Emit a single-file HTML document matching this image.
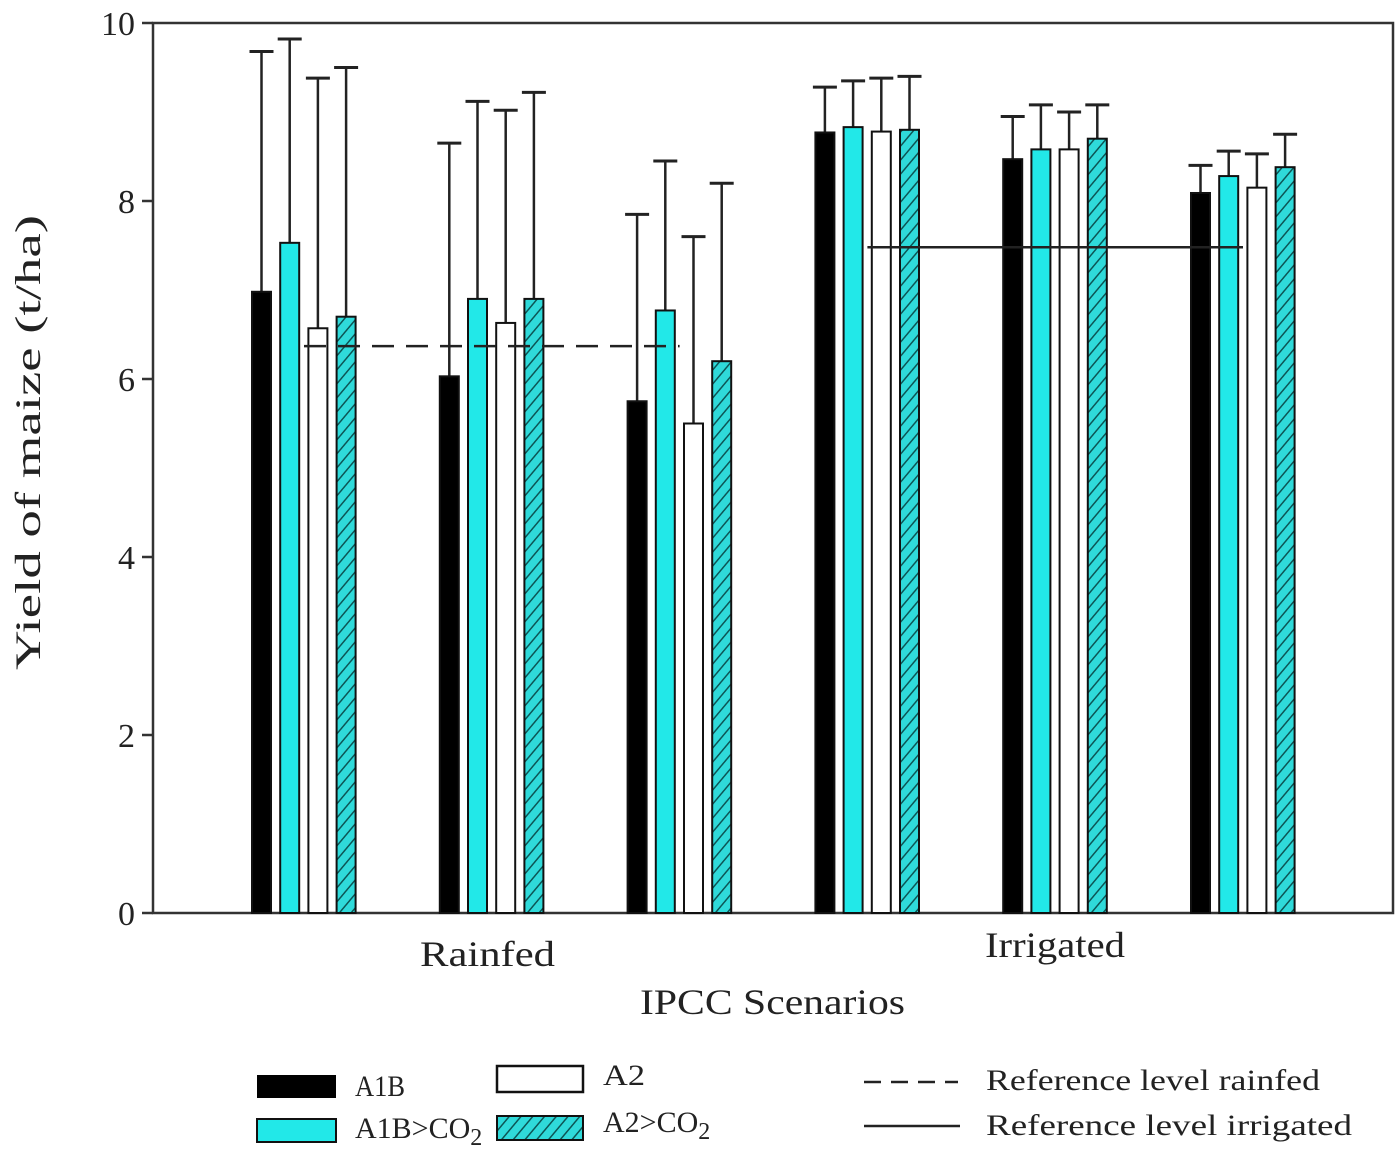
<!DOCTYPE html>
<html><head><meta charset="utf-8"><style>
html,body{margin:0;padding:0;background:#fff;}
svg{display:block;font-family:"Liberation Serif",serif;}
</style></head><body>
<svg id="chart" width="1400" height="1158" viewBox="0 0 1400 1158">
<defs>
<pattern id="hatch" width="9" height="9" patternUnits="userSpaceOnUse" patternTransform="rotate(40)">
<rect width="9" height="9" fill="#2fdada"/>
<line x1="0" y1="0" x2="0" y2="9" stroke="#0c5555" stroke-width="3"/>
</pattern>
</defs>
<g id="plot"></g>
<text x="420" y="966" font-size="36" textLength="135" lengthAdjust="spacingAndGlyphs" fill="#222">Rainfed</text>
<text x="985" y="957" font-size="36" textLength="140" lengthAdjust="spacingAndGlyphs" fill="#222">Irrigated</text>
<text x="640" y="1014" font-size="36" textLength="265" lengthAdjust="spacingAndGlyphs" fill="#222">IPCC Scenarios</text>
<text transform="translate(40,670) rotate(-90)" font-size="36" textLength="455" lengthAdjust="spacingAndGlyphs" fill="#222">Yield of maize (t/ha)</text>
<g>
<rect x="257" y="1075" width="79" height="23" fill="#000"/>
<text x="355" y="1096" font-size="30" textLength="50" lengthAdjust="spacingAndGlyphs" fill="#222">A1B</text>
<rect x="257" y="1119" width="79" height="23" fill="#22e8e8" stroke="#111" stroke-width="2"/>
<text x="355" y="1138" font-size="30" fill="#222">A1B&gt;CO<tspan font-size="24" dy="7">2</tspan></text>
<rect x="497" y="1066" width="86" height="26" fill="#fff" stroke="#111" stroke-width="2.5"/>
<text x="603" y="1085" font-size="30" textLength="42" lengthAdjust="spacingAndGlyphs" fill="#222">A2</text>
<rect x="497" y="1116" width="86" height="24" fill="url(#hatch)" stroke="#111" stroke-width="2"/>
<text x="603" y="1132" font-size="30" fill="#222">A2&gt;CO<tspan font-size="24" dy="7">2</tspan></text>
<line x1="864" y1="1082" x2="958" y2="1082" stroke="#222" stroke-width="2.5" stroke-dasharray="17,10"/>
<text x="986" y="1090" font-size="30" textLength="334" lengthAdjust="spacingAndGlyphs" fill="#222">Reference level rainfed</text>
<line x1="864" y1="1126" x2="960" y2="1126" stroke="#222" stroke-width="2.5"/>
<text x="986" y="1135" font-size="30" textLength="366" lengthAdjust="spacingAndGlyphs" fill="#222">Reference level irrigated</text>
</g>
</svg>
<script>
const groups = ["R1","R2","R3","I1","I2","I3"];
const seriesNames = ["A1B","A1B>CO2","A2","A2>CO2"];
const a1b = [6.98, 6.03, 5.75, 8.77, 8.47, 8.09];
const a1bCo2 = [7.53, 6.90, 6.77, 8.83, 8.58, 8.28];
const a2 = [6.57, 6.63, 5.50, 8.78, 8.58, 8.15];
const a2Co2 = [6.70, 6.90, 6.20, 8.80, 8.70, 8.38];
const a1bErr = [9.68, 8.65, 7.85, 9.28, 8.95, 8.40];
const a1bCo2Err = [9.82, 9.12, 8.45, 9.35, 9.08, 8.56];
const a2Err = [9.38, 9.02, 7.60, 9.38, 9.00, 8.53];
const a2Co2Err = [9.50, 9.22, 8.20, 9.40, 9.08, 8.75];
const yTicks = [0, 2, 4, 6, 8, 10];
const refRainfed = 6.37;
const refIrrigated = 7.48;

const NS = "http://www.w3.org/2000/svg";
const plot = document.getElementById("plot");
const X0 = 153, X1 = 1393, Y0 = 913, Y1 = 23;
const y = v => Y0 - v / 10 * (Y0 - Y1);
const groupStart = i => 252 + i * 187.8;
const barX = (i, s) => groupStart(i) + s * 28.2;
const BW = 19;
function mk(tag, attrs) { const e = document.createElementNS(NS, tag); for (const k in attrs) e.setAttribute(k, attrs[k]); plot.appendChild(e); return e; }

const frame = mk("rect", {x: X0, y: Y1, width: X1 - X0, height: Y0 - Y1, fill: "none", stroke: "#333", "stroke-width": 2.5});


yTicks.forEach(t => {
  const tk = mk("line", {x1: X0 - 11, x2: X0, y1: y(t), y2: y(t), stroke: "#333", "stroke-width": 2.5});
  
  
  const lb = mk("text", {x: X0 - 18, y: y(t) + 12, "font-size": 34, "text-anchor": "end", fill: "#222"});
  lb.textContent = t;
  
  
});
const vals = [a1b, a1bCo2, a2, a2Co2];
const errs = [a1bErr, a1bCo2Err, a2Err, a2Co2Err];
const fills = ["#000", "#22e8e8", "#fff", "url(#hatch)"];
groups.forEach((g, i) => {
  vals.forEach((arr, s) => {
    const x = barX(i, s), cx = x + BW / 2;
    const el = mk("line", {x1: cx, x2: cx, y1: y(errs[s][i]), y2: y(arr[i]), stroke: "#222", "stroke-width": 2.5});
    
    
    const cap = mk("line", {x1: cx - 12, x2: cx + 12, y1: y(errs[s][i]), y2: y(errs[s][i]), stroke: "#222", "stroke-width": 3});
    
    
    const r = mk("rect", {x: x, y: y(arr[i]), width: BW, height: Y0 - y(arr[i]), fill: fills[s], stroke: "#111", "stroke-width": 2});
    
    
  });
});
const rl = mk("line", {x1: groupStart(0) + 52, x2: groupStart(2) + 52, y1: y(refRainfed), y2: y(refRainfed), stroke: "#222", "stroke-width": 2.5, "stroke-dasharray": "22,12"});


const il = mk("line", {x1: groupStart(3) + 52, x2: groupStart(5) + 52, y1: y(refIrrigated), y2: y(refIrrigated), stroke: "#222", "stroke-width": 2.5});


</script>
</body></html>
